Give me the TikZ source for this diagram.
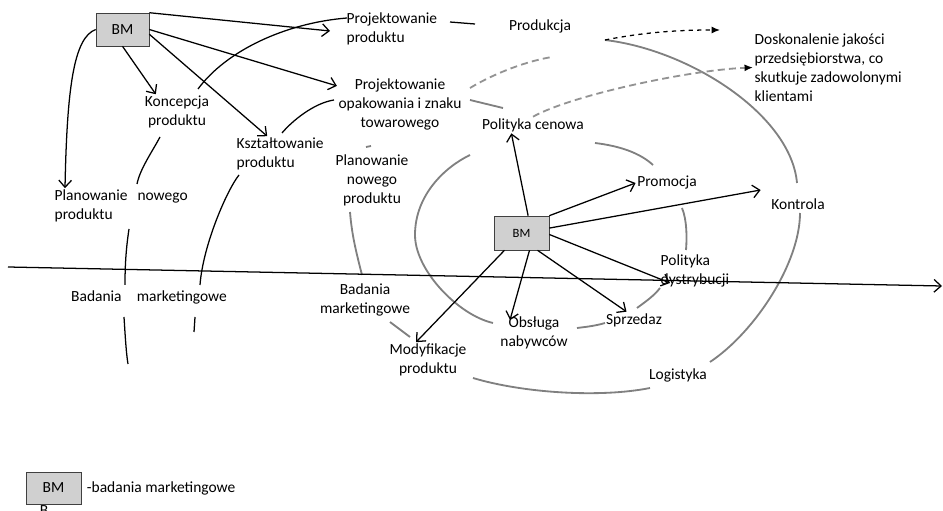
\documentclass[tikz,border=0pt]{standalone}
\usepackage{fontspec}
\setmainfont{Carlito}
\usepackage{tikz}
\usetikzlibrary{arrows.meta,positioning,calc}
\tikzset{>={Straight Barb[length=5pt,width=9pt]}}

\begin{document}
\begin{tikzpicture}
	[x=0.025cm, y=-0.025cm, inner sep=1pt,
	font=\fontsize{11}{13.5}\selectfont,
	bm/.style={draw=black!75, fill=gray!37, minimum width=1.325cm, minimum height=0.825cm},
	label_c/.style={align=center},
	label_l/.style={align=left, anchor=west},
	spiral/.style={draw, line width=0.9pt},
	ring/.style={draw=gray, line width=1.3pt},
	ring_dash/.style={draw=gray!85, dash pattern=on 5pt off 3pt, line width=1.3pt},
	link/.style={->, line width=0.9pt},
	goal/.style={-{Latex[black, length=6pt, width=5pt]}}]
	
	\clip (0,0) rectangle (943,511);
	
	\node[bm] (bm_top) at (122.5,29.5) {BM};
	\node[bm, minimum width=1.375cm, minimum height=0.85cm, font=\fontsize{9}{10}\selectfont] (bm_mid) at (521.5,233) {BM};
	\node[bm, minimum width=1.375cm, minimum height=0.8cm] (bm_key) at (53.5,488) {BM};
	\node[inner sep=0pt, anchor=north] (bm_key_b) at (44,505) {B};
	\node[label_l] (key_text) [right=0.1cm of bm_key] {-badania marketingowe};
	
	\node[label_l] (proj_produktu) at (345,29)    {Projektowanie\\produktu};
	\node[label_c] (produkcja)     at (540,26)    {Produkcja};
	\node[label_l] (doskonalenie)  at (753,67.5)  {Doskonalenie jakości\\przedsiębiorstwa, co\\skutkuje zadowolonymi\\klientami};
	\node[label_c] (koncepcja)     at (177,112)   {Koncepcja\\produktu};
	\node[label_c] (proj_opak)     at (400,104)   {Projektowanie\\opakowania i znaku\\towarowego};
	\node[label_l] (ksztalt)       at (235,154)   {Kształtowanie\\produktu};
	\node[label_c] (pol_cenowa)    at (533,125)   {Polityka cenowa};
	\node[label_c] (plan_nowy)     at (372,180)   {Planowanie\\nowego\\produktu};
	\node[label_l] (plan_nowy_l)   at (53,206)    {Planowanie\hspace{0.25cm}nowego\\produktu};
	\node[label_c] (promocja)      at (667,183)   {Promocja};
	\node[label_c] (kontrola)      at (798,204)   {Kontrola};
	\node[label_l] (pol_dystr)     at (659,271)   {Polityka\\dystrybucji};
	\node[label_c] (badania_l)     at (149,297)   {Badania\hspace{0.38cm}marketingowe};
	\node[label_c] (badania_m)     at (365,300)   {Badania\\marketingowe};
	\node[label_c] (obsluga)       at (534,333)   {Obsługa\\nabywców};
	\node[label_c] (sprzedaz)      at (634,320)   {Sprzedaz};
	\node[label_c] (modyfikacje)   at (428,360)   {Modyfikacje\\produktu};
	\node[label_c] (logistyka)     at (678,375)   {Logistyka};
	
	\coordinate (ax_start) at (8,267);
	\coordinate (ax_end)   at (942,286);
	\coordinate (prod_end) at (605,40);
	\coordinate (goal_tip) at (720,30);
	
	% spiral, outer part
	\draw[spiral] (198,89) .. controls (226,51) and (285,23) .. (347,18);
	\draw[spiral] (450,22) -- (475,24);
	\draw[spiral] (282,133) .. controls (292,121) and (314,103) .. (334,100);
	\draw[spiral] (160,137) .. controls (152,152) and (140,169) .. (137,184);
	\draw[spiral] (239,175) .. controls (227,190) and (203,245) .. (200,285);
	\draw[spiral] (195,317) -- (194,332);
	\draw[spiral] (129,229) .. controls (126,249) and (125,265) .. (125,285);
	\draw[spiral] (124,317) .. controls (125,332) and (126,352) .. (128,364);
	
	% spiral, grey rings
	\draw[ring] (473,378) .. controls (523,393) and (600,398) .. (650,388);
	\draw[ring] (710,362) .. controls (755,332) and (800,263) .. (800,213);
	\draw[ring] (797,183) .. controls (791,115) and (690,50) .. (prod_end);
	\draw[ring] (470,100) -- (503,108);
	\draw[ring] (595,143) .. controls (620,146) and (640,153) .. (653,165);
	\draw[ring] (682,208) .. controls (687,220) and (687,238) .. (686,250);
	\draw[ring] (660,288) .. controls (654,296) and (645,302) .. (637,308);
	\draw[ring] (605,323) .. controls (595,326) and (585,327) .. (577,328);
	\draw[ring] (470,155) .. controls (445,167) and (415,195) .. (415,235)
		.. controls (415,270) and (458,315) .. (493,323);
	\draw[ring] (350,212) .. controls (352,237) and (357,255) .. (362,275);
	\draw[ring] (390,322) -- (410,337);
	\draw[ring] (366,147) -- (371,146);
	
	\draw[ring_dash] (470,88) .. controls (495,73) and (527,61) .. (552,57);
	\draw[ring_dash, goal] (pol_cenowa.north) .. controls (572,95) and (690,70) .. (doskonalenie.west);
	\draw[dashed, line width=0.9pt, goal] (prod_end) .. controls (645,32) and (680,30) .. (goal_tip);
	
	\draw[link] (ax_start) -- (ax_end);
	
	\draw[link] (bm_top.north east) -- ($(proj_produktu.west)+(-15,2)$);
	\draw[link] (bm_top.east)       -- (proj_opak.164);
	\draw[link] (bm_top.-10)        -- (ksztalt.126);
	\draw[link] (bm_top.south)      -- (koncepcja.140);
	\draw[link] (bm_top.west) .. controls +(-22,8) and +(2,-100) .. ($(plan_nowy_l.north west)+(12,0)$);
	
	\draw[link] (bm_mid.69)                 -- (pol_cenowa.201);
	\draw[link] (bm_mid.north east)         -- (promocja.west);
	\draw[link] (bm_mid.10)                 -- ($(kontrola.west)+(-9,-14)$);
	\draw[link] (bm_mid.-3)                 -- ($(pol_dystr.west)+(11,12)$);
	\draw[link] ($(bm_mid.south)+(16,0)$)   -- (sprzedaz.132);
	\draw[link] ($(bm_mid.south)+(8,0)$)    -- ($(obsluga.center)+(-24,-13)$);
	\draw[link] ($(bm_mid.south)+(-17,0)$)  -- (modyfikacje.124);
\end{tikzpicture}
\end{document}
